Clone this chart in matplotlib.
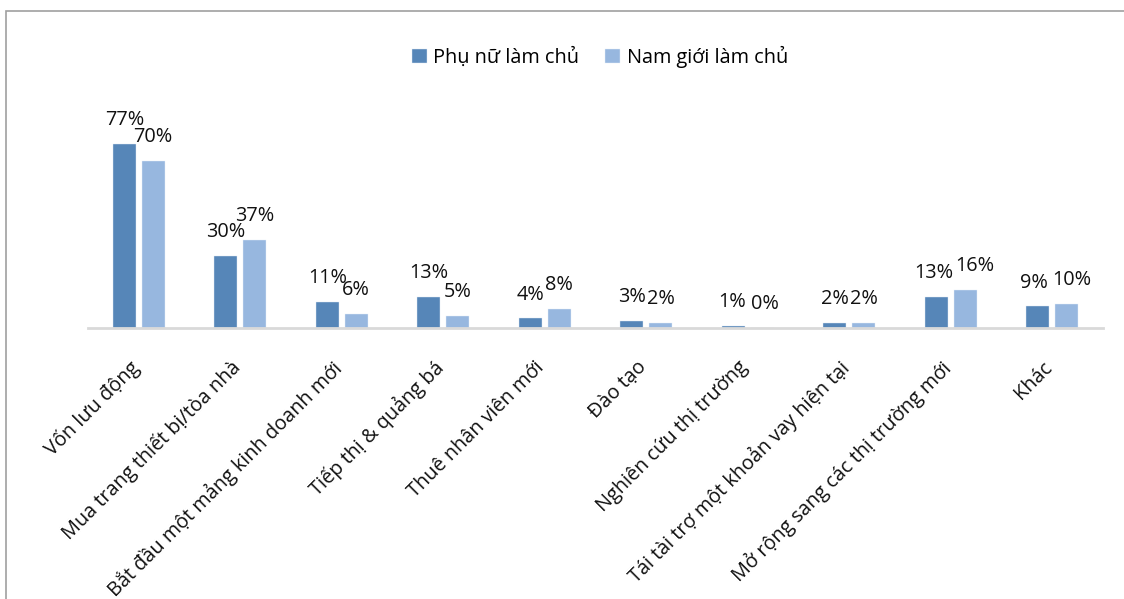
import matplotlib.pyplot as plt
import matplotlib.patches as mpatches
import numpy as np

plt.rcParams['font.family'] = ['Open Sans', 'DejaVu Sans']

# Survey data: share of answers per purpose (%)
categories = ['Vốn lưu động', 'Mua trang thiết bị/tòa nhà', 'Bắt đầu một mảng kinh doanh mới',
              'Tiếp thị & quảng bá', 'Thuê nhân viên mới', 'Đào tạo', 'Nghiên cứu thị trường',
              'Tái tài trợ một khoản vay hiện tại', 'Mở rộng sang các thị trường mới', 'Khác']
women = [77, 30, 11, 13, 4, 3, 1, 2, 13, 9]
men = [70, 37, 6, 5, 8, 2, 0, 2, 16, 10]
series_names = ['Phụ nữ làm chủ', 'Nam giới làm chủ']

dark = '#5686B8'
light = '#97B7DF'
fs = 14.3

# small sideways nudges (points) so neighbouring value labels don't collide
nudge = {(0, 8): -2, (1, 8): 7, (0, 9): -3, (1, 9): 4, (0, 6): -1, (1, 6): 2}

W, H = 1124, 599
fig = plt.figure(figsize=(W / 100, H / 100), dpi=100)
ax = fig.add_axes([88 / W, (H - 328) / H, 1015 / W, 228 / H])

x = np.arange(len(categories))
bw = 0.225
gap = 0.06
b1 = ax.bar(x - (bw + gap) / 2, women, bw, color=dark, edgecolor='#dfe8f3', linewidth=0.3,
            label=series_names[0])
b2 = ax.bar(x + (bw + gap) / 2, men, bw, color=light, edgecolor='#e6eef8', linewidth=0.3,
            label=series_names[1])

for k, (bars, vals) in enumerate(((b1, women), (b2, men))):
    for i, (rect, v) in enumerate(zip(bars, vals)):
        ax.annotate(f'{v}%', (rect.get_x() + rect.get_width() / 2, v),
                    xytext=(nudge.get((k, i), 0), 10), textcoords='offset points',
                    ha='center', va='bottom', fontsize=fs, color='#111111')

ax.set_xlim(-0.5, len(categories) - 0.5)
ax.set_ylim(0, 95.4)
ax.set_yticks([])
for s in ('top', 'right', 'left'):
    ax.spines[s].set_visible(False)
ax.spines['bottom'].set_color('#d9d9d9')
ax.spines['bottom'].set_linewidth(2)

ax.set_xticks(x - 0.1)
ax.set_xticklabels(categories, rotation=45, ha='right', va='top', rotation_mode='anchor',
                   fontsize=fs, color='#111111')
ax.tick_params(axis='x', length=0, pad=21)

ax.legend(loc='center', bbox_to_anchor=(600 / W, (H - 57) / H), bbox_transform=fig.transFigure,
          ncol=2, frameon=False, fontsize=fs, handlelength=0.75, handleheight=0.75,
          handletextpad=0.35, columnspacing=1.3)

# outer frame around the chart area
fig.patches.append(mpatches.Rectangle((6 / W, -0.1), 1.2, 1 - 11 / H + 0.1,
                                      transform=fig.transFigure, fill=False,
                                      edgecolor='#a0a0a0', linewidth=1.2))

fig.savefig('out.png', dpi=100)
